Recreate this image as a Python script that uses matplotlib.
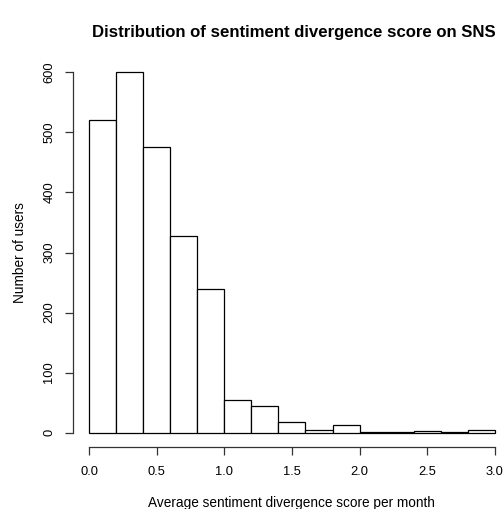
import numpy as np
import matplotlib
matplotlib.use("Agg")
import matplotlib.pyplot as plt

plt.rcParams["font.family"] = ["Liberation Sans", "DejaVu Sans"]

# histogram of average monthly sentiment divergence, 0.2-wide bins
bin_edges = np.round(np.arange(0.0, 3.01, 0.2), 1)
counts = [521, 601, 476, 327, 239, 54, 44, 18, 5, 13, 1, 1, 3, 1, 4]
x_ticks = [0.0, 0.5, 1.0, 1.5, 2.0, 2.5, 3.0]
y_ticks = [0, 100, 200, 300, 400, 500, 600]

fig = plt.figure(figsize=(5.03, 5.09), dpi=100)
ax = fig.add_axes([0.1447, 0.1218, 0.8553, 0.7642])

ax.bar(bin_edges[:-1], counts, width=0.2, align="edge",
       facecolor="white", edgecolor="black", linewidth=0.9)

ax.set_xlim(-0.12, 3.06)
ax.set_ylim(-24, 624)

for side in ("top", "right"):
    ax.spines[side].set_visible(False)
ax.spines["left"].set_bounds(0, 600)
ax.spines["bottom"].set_bounds(0, 3.0)
for side in ("left", "bottom"):
    ax.spines[side].set_linewidth(0.9)
    ax.spines[side].set_color("#333333")

ax.set_xticks(x_ticks)
ax.set_xticklabels([f"{v:.1f}" for v in x_ticks])
ax.set_yticks(y_ticks)
ax.set_yticklabels([str(v) for v in y_ticks], rotation=90, va="center")
ax.tick_params(axis="both", direction="out", length=5.5, width=0.9,
               color="#333333", labelsize=9.3, pad=8)
ax.tick_params(axis="y", pad=7)

ax.set_title("Distribution of sentiment divergence score on SNS",
             fontsize=12.1, fontweight="bold", pad=15, x=0.513)
ax.set_xlabel("Average sentiment divergence score per month", fontsize=9.8,
              labelpad=13, x=0.508)
ax.set_ylabel("Number of users", fontsize=9.8, labelpad=12)

fig.savefig("out.png", dpi=100)
